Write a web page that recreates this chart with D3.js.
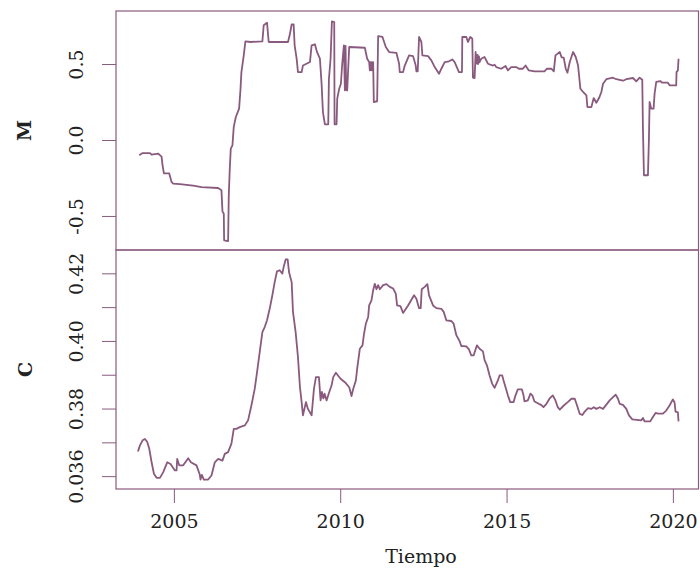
<!DOCTYPE html>
<html>
<head>
<meta charset="utf-8">
<script src="https://cdn.jsdelivr.net/npm/d3@7"></script>
<style>
  body { margin: 0; background: #fff; }
  svg { display: block; }
  text { font-family: "DejaVu Serif", serif; fill: #222; }
</style>
</head>
<body>
<div id="chart"></div>
<script>
// series M (top panel)
var mTime = [2003.96, 2004.06, 2004.28, 2004.33, 2004.53, 2004.63, 2004.66, 2004.70, 2004.86, 2004.93,
  2004.98, 2005.18, 2005.58, 2005.83, 2006.33, 2006.43, 2006.46, 2006.50, 2006.51, 2006.63,
  2006.65, 2006.68, 2006.71, 2006.76, 2006.80, 2006.86, 2006.96, 2007.00, 2007.03, 2007.10,
  2007.15, 2007.31, 2007.66, 2007.70, 2007.80, 2007.85, 2008.43, 2008.48, 2008.54, 2008.60,
  2008.63, 2008.69, 2008.73, 2008.84, 2008.88, 2009.09, 2009.14, 2009.24, 2009.30, 2009.39,
  2009.44, 2009.48, 2009.54, 2009.64, 2009.66, 2009.71, 2009.75, 2009.82, 2009.83, 2009.89,
  2009.91, 2009.97, 2010.02, 2010.06, 2010.11, 2010.14, 2010.16, 2010.18, 2010.21, 2010.27,
  2010.74, 2010.81, 2010.87, 2010.89, 2010.91, 2010.93, 2010.95, 2010.97, 2010.99, 2011.01,
  2011.11, 2011.14, 2011.27, 2011.37, 2011.47, 2011.69, 2011.77, 2011.79, 2011.89, 2011.94,
  2012.07, 2012.19, 2012.27, 2012.29, 2012.33, 2012.37, 2012.44, 2012.47, 2012.64, 2012.74,
  2012.84, 2012.97, 2013.04, 2013.14, 2013.27, 2013.37, 2013.44, 2013.57, 2013.66, 2013.67,
  2013.79, 2013.84, 2013.91, 2013.97, 2013.99, 2014.04, 2014.07, 2014.11, 2014.13, 2014.15,
  2014.17, 2014.19, 2014.24, 2014.34, 2014.44, 2014.59, 2014.64, 2014.69, 2014.84, 2014.97,
  2015.04, 2015.14, 2015.29, 2015.37, 2015.49, 2015.57, 2015.67, 2015.84, 2016.14, 2016.21,
  2016.35, 2016.42, 2016.47, 2016.60, 2016.65, 2016.72, 2016.78, 2016.83, 2016.90, 2017.00,
  2017.08, 2017.15, 2017.22, 2017.30, 2017.40, 2017.43, 2017.55, 2017.62, 2017.70, 2017.78,
  2017.85, 2017.90, 2018.00, 2018.20, 2018.30, 2018.50, 2018.60, 2018.80, 2018.90, 2019.00,
  2019.08, 2019.10, 2019.13, 2019.25, 2019.28, 2019.30, 2019.35, 2019.42, 2019.45, 2019.50,
  2019.62, 2019.68, 2019.85, 2019.90, 2020.10, 2020.11, 2020.15, 2020.17];
var mValue = [-0.100, -0.086, -0.086, -0.097, -0.090, -0.110, -0.167, -0.220, -0.220, -0.276,
  -0.287, -0.290, -0.300, -0.310, -0.316, -0.330, -0.470, -0.485, -0.660, -0.665,
  -0.364, -0.190, -0.057, -0.035, 0.086, 0.150, 0.206, 0.327, 0.447, 0.557,
  0.649, 0.645, 0.649, 0.755, 0.772, 0.645, 0.645, 0.689, 0.760, 0.760,
  0.623, 0.535, 0.447, 0.447, 0.490, 0.513, 0.623, 0.630, 0.580, 0.535,
  0.370, 0.184, 0.103, 0.103, 0.400, 0.535, 0.780, 0.776, 0.103, 0.103,
  0.272, 0.337, 0.370, 0.500, 0.623, 0.327, 0.620, 0.330, 0.327, 0.612,
  0.607, 0.535, 0.513, 0.458, 0.513, 0.458, 0.513, 0.458, 0.513, 0.250,
  0.255, 0.684, 0.678, 0.612, 0.579, 0.574, 0.502, 0.447, 0.447, 0.490,
  0.557, 0.552, 0.490, 0.452, 0.452, 0.678, 0.645, 0.557, 0.552, 0.524,
  0.480, 0.436, 0.469, 0.513, 0.518, 0.530, 0.513, 0.447, 0.447, 0.678,
  0.678, 0.645, 0.678, 0.667, 0.410, 0.408, 0.579, 0.502, 0.560, 0.500,
  0.550, 0.513, 0.535, 0.546, 0.502, 0.490, 0.495, 0.480, 0.469, 0.487,
  0.458, 0.480, 0.480, 0.469, 0.469, 0.490, 0.458, 0.452, 0.452, 0.469,
  0.469, 0.452, 0.557, 0.579, 0.546, 0.540, 0.469, 0.443, 0.513, 0.579,
  0.546, 0.490, 0.337, 0.316, 0.294, 0.217, 0.217, 0.276, 0.245, 0.276,
  0.316, 0.370, 0.400, 0.410, 0.400, 0.390, 0.400, 0.408, 0.386, 0.410,
  0.397, 0.074, -0.232, -0.232, 0.009, 0.250, 0.206, 0.206, 0.305, 0.382,
  0.388, 0.377, 0.377, 0.360, 0.360, 0.447, 0.458, 0.535];

// series C (bottom panel)
var cTime = [2003.92, 2003.98, 2004.06, 2004.13, 2004.20, 2004.26, 2004.33, 2004.40, 2004.48, 2004.58,
  2004.68, 2004.80, 2004.90, 2005.03, 2005.08, 2005.10, 2005.16, 2005.28, 2005.43, 2005.51,
  2005.68, 2005.78, 2005.80, 2005.84, 2005.90, 2006.03, 2006.13, 2006.23, 2006.33, 2006.46,
  2006.53, 2006.63, 2006.73, 2006.80, 2006.88, 2006.98, 2007.13, 2007.23, 2007.33, 2007.43,
  2007.50, 2007.58, 2007.66, 2007.73, 2007.80, 2007.88, 2007.96, 2008.03, 2008.10, 2008.18,
  2008.26, 2008.30, 2008.36, 2008.42, 2008.46, 2008.54, 2008.58, 2008.66, 2008.73, 2008.79,
  2008.84, 2008.88, 2008.97, 2009.03, 2009.14, 2009.21, 2009.27, 2009.36, 2009.41, 2009.45,
  2009.49, 2009.53, 2009.59, 2009.67, 2009.74, 2009.79, 2009.87, 2010.01, 2010.14, 2010.27,
  2010.34, 2010.39, 2010.47, 2010.51, 2010.59, 2010.67, 2010.71, 2010.77, 2010.84, 2010.87,
  2010.94, 2010.99, 2011.04, 2011.09, 2011.14, 2011.19, 2011.29, 2011.39, 2011.49, 2011.59,
  2011.67, 2011.71, 2011.81, 2011.89, 2012.04, 2012.22, 2012.29, 2012.37, 2012.42, 2012.45,
  2012.54, 2012.62, 2012.67, 2012.79, 2012.89, 2013.04, 2013.11, 2013.19, 2013.34, 2013.41,
  2013.49, 2013.59, 2013.64, 2013.79, 2013.87, 2013.94, 2014.01, 2014.11, 2014.19, 2014.29,
  2014.34, 2014.41, 2014.49, 2014.57, 2014.64, 2014.74, 2014.79, 2014.87, 2014.91, 2014.97,
  2015.04, 2015.11, 2015.21, 2015.27, 2015.34, 2015.46, 2015.51, 2015.54, 2015.64, 2015.72,
  2015.78, 2015.84, 2015.97, 2016.04, 2016.11, 2016.20, 2016.29, 2016.39, 2016.47, 2016.54,
  2016.60, 2016.72, 2016.84, 2016.95, 2017.05, 2017.12, 2017.20, 2017.28, 2017.35, 2017.45,
  2017.55, 2017.62, 2017.70, 2017.80, 2017.90, 2018.10, 2018.28, 2018.35, 2018.40, 2018.50,
  2018.60, 2018.68, 2018.78, 2019.05, 2019.10, 2019.15, 2019.32, 2019.40, 2019.48, 2019.55,
  2019.70, 2019.80, 2019.90, 2020.00, 2020.05, 2020.08, 2020.15, 2020.17];
var cValue = [0.3673, 0.3691, 0.3706, 0.3710, 0.3701, 0.3681, 0.3641, 0.3607, 0.3595, 0.3595,
  0.3612, 0.3641, 0.3636, 0.3617, 0.3617, 0.3651, 0.3632, 0.3632, 0.3653, 0.3641,
  0.3632, 0.3604, 0.3590, 0.3604, 0.3590, 0.3590, 0.3602, 0.3641, 0.3651, 0.3646,
  0.3666, 0.3671, 0.3696, 0.3740, 0.3740, 0.3745, 0.3750, 0.3765, 0.3809, 0.3858,
  0.3908, 0.3967, 0.4026, 0.4041, 0.4061, 0.4095, 0.4135, 0.4174, 0.4206, 0.4209,
  0.4199, 0.4219, 0.4241, 0.4241, 0.4204, 0.4174, 0.4086, 0.4026, 0.3952, 0.3863,
  0.3819, 0.3780, 0.3819, 0.3799, 0.3780, 0.3858, 0.3893, 0.3893, 0.3824, 0.3849,
  0.3830, 0.3844, 0.3824, 0.3849, 0.3868, 0.3893, 0.3906, 0.3888, 0.3878, 0.3863,
  0.3837, 0.3858, 0.3883, 0.3918, 0.3977, 0.3987, 0.4017, 0.4051, 0.4071, 0.4105,
  0.4120, 0.4150, 0.4169, 0.4153, 0.4165, 0.4153, 0.4165, 0.4168, 0.4160, 0.4155,
  0.4140, 0.4105, 0.4103, 0.4083, 0.4105, 0.4135, 0.4125, 0.4097, 0.4097, 0.4153,
  0.4160, 0.4168, 0.4135, 0.4105, 0.4097, 0.4095, 0.4086, 0.4061, 0.4059, 0.4051,
  0.4017, 0.3999, 0.3985, 0.3984, 0.3975, 0.3957, 0.3957, 0.3987, 0.3977, 0.3969,
  0.3943, 0.3928, 0.3898, 0.3873, 0.3861, 0.3883, 0.3898, 0.3898, 0.3883, 0.3863,
  0.3839, 0.3819, 0.3819, 0.3839, 0.3857, 0.3857, 0.3839, 0.3821, 0.3824, 0.3844,
  0.3838, 0.3821, 0.3814, 0.3811, 0.3804, 0.3814, 0.3829, 0.3839, 0.3824, 0.3804,
  0.3797, 0.3809, 0.3819, 0.3829, 0.3829, 0.3809, 0.3784, 0.3781, 0.3791, 0.3801,
  0.3799, 0.3804, 0.3799, 0.3804, 0.3799, 0.3824, 0.3841, 0.3829, 0.3814, 0.3811,
  0.3799, 0.3780, 0.3768, 0.3765, 0.3772, 0.3762, 0.3762, 0.3775, 0.3787, 0.3785,
  0.3785, 0.3794, 0.3809, 0.3827, 0.3818, 0.3791, 0.3789, 0.3762];

// ticks
var xTicks = [2005, 2010, 2015, 2020];
var mTicks = [-0.5, 0, 0.5];
var mTickLabels = ["-0.5", "0.0", "0.5"];
var cTicks = [0.36, 0.37, 0.38, 0.39, 0.40, 0.41, 0.42];
var cTickLabels = ["0.036", "", "0.38", "", "0.40", "", "0.42"];

var col = "#8a5a7e";

var width = 700, height = 574;
var left = 116, right = 698.5, top1 = 11, mid = 250, bottom = 489;

var svg = d3.select("#chart").append("svg")
    .attr("width", width)
    .attr("height", height);

var x = d3.scaleLinear().domain([2003.26, 2020.77]).range([left, right]);
var yM = d3.scaleLinear().domain([-0.724, 0.849]).range([mid, top1]);
var yC = d3.scaleLinear().domain([0.3562, 0.4269]).range([bottom, mid]);

function yAxis(scale, ticks, labels) {
    return function(g) {
        g.call(d3.axisLeft(scale).tickValues(ticks).tickSize(14).tickFormat(function(d, i) { return labels[i]; }));
        g.select(".domain").remove();
        g.selectAll(".tick line").attr("stroke", col);
        g.selectAll(".tick text")
            .attr("transform", "rotate(-90)")
            .attr("x", 0)
            .attr("y", -33)
            .attr("dy", 0)
            .attr("text-anchor", "middle")
            .attr("font-size", 19)
            .attr("fill", "#222")
            .attr("font-family", "DejaVu Serif");
    };
}

svg.append("g").attr("transform", "translate(" + left + ",0)").call(yAxis(yM, mTicks, mTickLabels));
svg.append("g").attr("transform", "translate(" + left + ",0)").call(yAxis(yC, cTicks, cTickLabels));

// x axis
var gx = svg.append("g").attr("transform", "translate(0," + bottom + ")")
    .call(d3.axisBottom(x).tickValues(xTicks).tickSize(14).tickFormat(d3.format("d")));
gx.select(".domain").remove();
gx.selectAll(".tick line").attr("stroke", col);
gx.selectAll(".tick text")
    .attr("y", 39)
    .attr("dy", 0)
    .attr("font-size", 19)
    .attr("fill", "#222")
    .attr("font-family", "DejaVu Serif");

// lines
var mData = mTime.map(function(t, i) { return [t, mValue[i]]; });
var cData = cTime.map(function(t, i) { return [t, cValue[i]]; });

svg.append("path")
    .datum(mData)
    .attr("fill", "none")
    .attr("stroke", col)
    .attr("stroke-width", 1.8)
    .attr("stroke-linejoin", "round")
    .attr("d", d3.line().x(function(d) { return x(d[0]); }).y(function(d) { return yM(d[1]); }));

svg.append("path")
    .datum(cData)
    .attr("fill", "none")
    .attr("stroke", col)
    .attr("stroke-width", 1.8)
    .attr("stroke-linejoin", "round")
    .attr("d", d3.line().x(function(d) { return x(d[0]); }).y(function(d) { return yC(d[1]); }));

// panel boxes
svg.append("rect")
    .attr("x", left).attr("y", top1)
    .attr("width", right - left).attr("height", mid - top1)
    .attr("fill", "none").attr("stroke", col).attr("stroke-width", 1.2);
svg.append("rect")
    .attr("x", left).attr("y", mid)
    .attr("width", right - left).attr("height", bottom - mid)
    .attr("fill", "none").attr("stroke", col).attr("stroke-width", 1.2);

// panel titles
svg.append("text")
    .attr("transform", "translate(31," + ((top1 + mid) / 2) + ") rotate(-90)")
    .attr("text-anchor", "middle")
    .attr("font-size", 19)
    .attr("font-weight", "bold")
    .text("M");
svg.append("text")
    .attr("transform", "translate(32," + ((mid + bottom) / 2) + ") rotate(-90)")
    .attr("text-anchor", "middle")
    .attr("font-size", 19)
    .attr("font-weight", "bold")
    .text("C");

svg.append("text")
    .attr("x", 421)
    .attr("y", 563)
    .attr("text-anchor", "middle")
    .attr("font-size", 19)
    .text("Tiempo");
</script>
</body>
</html>
